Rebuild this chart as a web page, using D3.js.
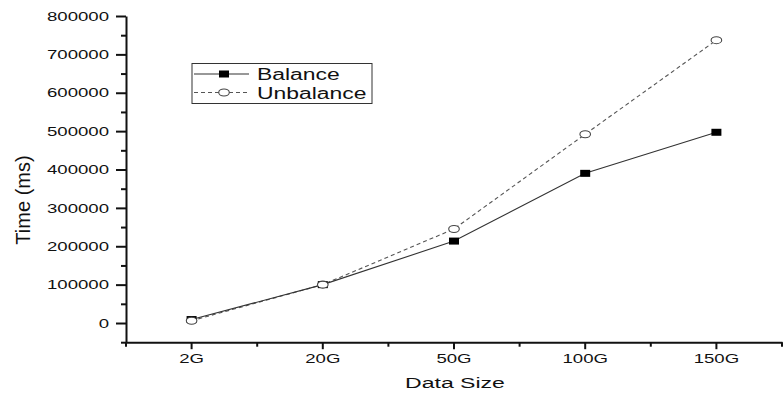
<!DOCTYPE html>
<html>
<head>
<meta charset="utf-8">
<script src="https://cdn.jsdelivr.net/npm/d3@7"></script>
<style>
  html, body { margin: 0; padding: 0; background: #fff; }
  svg { display: block; font-family: "Liberation Sans", Arial, sans-serif; }
</style>
</head>
<body>
<svg id="chart" width="783" height="393"></svg>
<script>
// Run time of the job for each input size
const categories = ["2G", "20G", "50G", "100G", "150G"];
const balance = [9000, 100000, 213500, 390000, 497000];
const unbalance = [6000, 100000, 245000, 492000, 737000];
const yTicks = [0, 100000, 200000, 300000, 400000, 500000, 600000, 700000, 800000];
const yMinorTicks = [-50000, 50000, 150000, 250000, 350000, 450000, 550000, 650000, 750000];

const svg = d3.select("#chart");
const SX = 1.43; // horizontal glyph stretch used by the figure's lettering

const plotLeft = 126, plotRight = 782, plotTop = 16, plotBottom = 342.2;

const x = d3.scaleBand().domain(categories).range([plotLeft, plotRight]).padding(0);
const cx = c => x(c) + x.bandwidth() / 2;
const y = d3.scaleLinear().domain([-50000, 800000]).range([plotBottom, plotTop]);

// stretch a text element horizontally around its own anchor
function stretch(sel, fontSize) {
  sel.each(function () {
    const t = d3.select(this);
    const tx = +t.attr("x") || 0;
    t.attr("x", tx / SX)
     .attr("transform", `scale(${SX},1)`)
     .style("font-size", fontSize + "px")
     .attr("fill", "#111");
  });
}

// Y axis
const yAxis = svg.append("g").attr("transform", `translate(${plotLeft},0)`)
  .call(d3.axisLeft(y).tickValues(yTicks).tickSize(10).tickSizeOuter(0).tickPadding(7)
    .tickFormat(d3.format("d")));
yAxis.select(".domain").attr("stroke", "#111").attr("stroke-width", 2);
yAxis.selectAll(".tick line").attr("stroke", "#111").attr("stroke-width", 2);
yAxis.selectAll("text").call(stretch, 13);

const yMinor = svg.append("g").attr("transform", `translate(${plotLeft},0)`)
  .call(d3.axisLeft(y).tickValues(yMinorTicks).tickSize(5).tickSizeOuter(0).tickFormat(""));
yMinor.select(".domain").remove();
yMinor.selectAll(".tick line").attr("stroke", "#111").attr("stroke-width", 2);

// X axis
const xAxis = svg.append("g").attr("transform", `translate(0,${plotBottom})`)
  .call(d3.axisBottom(x).tickSize(7).tickSizeOuter(0).tickPadding(5));
xAxis.select(".domain").attr("stroke", "#111").attr("stroke-width", 2);
xAxis.selectAll(".tick line").attr("stroke", "#111").attr("stroke-width", 2);
xAxis.selectAll("text").call(stretch, 13);

const xMinorPos = categories.map(c => x(c)).concat([plotRight]);
svg.append("g").selectAll("line").data(xMinorPos).join("line")
  .attr("x1", d => d).attr("x2", d => d)
  .attr("y1", plotBottom).attr("y2", plotBottom + 4.5)
  .attr("stroke", "#111").attr("stroke-width", 2);

// Axis titles
svg.append("text")
  .attr("transform", `translate(${(plotLeft + plotRight) / 2 + 1},388) scale(${SX * 1.04},1)`)
  .attr("text-anchor", "middle")
  .style("font-size", "15.5px").attr("fill", "#111")
  .text("Data Size");

svg.append("text")
  .attr("transform", `translate(30,200) rotate(-90)`)
  .attr("text-anchor", "middle")
  .style("font-size", "20px").attr("fill", "#111")
  .text("Time (ms)");

// Series lines
const line = d3.line().x((d, i) => cx(categories[i])).y(d => y(d));

svg.append("path").datum(unbalance).attr("d", line)
  .attr("fill", "none").attr("stroke", "#555").attr("stroke-width", 1.1)
  .attr("stroke-dasharray", "4,3");
svg.append("path").datum(balance).attr("d", line)
  .attr("fill", "none").attr("stroke", "#333").attr("stroke-width", 1.1);

// Markers
svg.append("g").selectAll("rect").data(balance).join("rect")
  .attr("x", (d, i) => cx(categories[i]) - 5)
  .attr("y", d => y(d) - 3.5)
  .attr("width", 10).attr("height", 7)
  .attr("fill", "#000");

svg.append("g").selectAll("ellipse").data(unbalance).join("ellipse")
  .attr("cx", (d, i) => cx(categories[i]))
  .attr("cy", d => y(d))
  .attr("rx", 5.3).attr("ry", 3.5)
  .attr("fill", "#fff").attr("stroke", "#444").attr("stroke-width", 1.1);

// Legend
const legend = svg.append("g");
legend.append("rect")
  .attr("x", 192).attr("y", 63.5).attr("width", 180).attr("height", 40)
  .attr("fill", "#fff").attr("stroke", "#333").attr("stroke-width", 1);

const legendItems = [
  { name: "Balance", y: 74, dash: null, color: "#333", marker: "rect" },
  { name: "Unbalance", y: 92.5, dash: "4,3", color: "#555", marker: "circle" }
];
legendItems.forEach(it => {
  legend.append("line")
    .attr("x1", 194).attr("x2", 249).attr("y1", it.y).attr("y2", it.y)
    .attr("stroke", it.color).attr("stroke-width", 1.1)
    .attr("stroke-dasharray", it.dash);
  if (it.marker === "rect") {
    legend.append("rect").attr("x", 219).attr("y", it.y - 3.5)
      .attr("width", 10).attr("height", 7).attr("fill", "#000");
  } else {
    legend.append("ellipse").attr("cx", 224).attr("cy", it.y)
      .attr("rx", 5.3).attr("ry", 3.5)
      .attr("fill", "#fff").attr("stroke", "#444").attr("stroke-width", 1.1);
  }
  legend.append("text")
    .attr("transform", `translate(257,${it.y + 6}) scale(${SX},1)`)
    .style("font-size", "16px").attr("fill", "#111")
    .text(it.name);
});
</script>
</body>
</html>
